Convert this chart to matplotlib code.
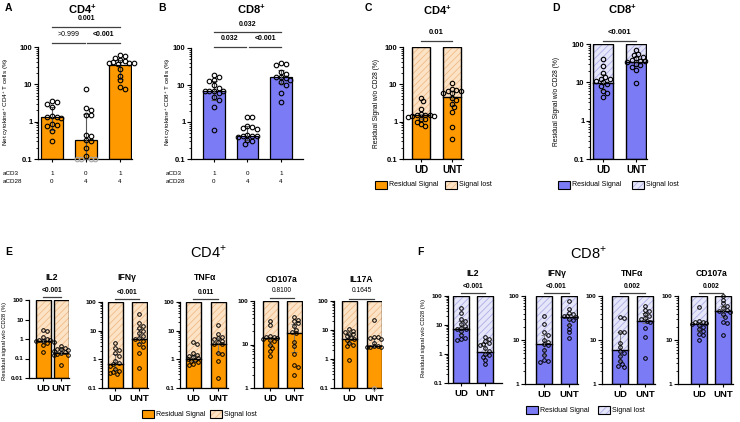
import numpy as np
import matplotlib
matplotlib.use('Agg')
import matplotlib.pyplot as plt
from matplotlib.patches import Rectangle
from matplotlib.ticker import LogLocator, NullFormatter

plt.rcParams['font.family'] = ['Liberation Sans', 'DejaVu Sans']
plt.rcParams['mathtext.fontset'] = 'custom'
plt.rcParams['mathtext.rm'] = 'Liberation Sans'
plt.rcParams['mathtext.bf'] = 'Liberation Sans:bold'
plt.rcParams['hatch.linewidth'] = 0.6

# ---------------- data ----------------
aCD3 = ['1', '0', '1']
aCD28 = ['0', '4', '4']
groups2 = ['UD', 'UNT']

A_vals = [[3.5, 3.3, 3.0, 2.4, 1.4, 1.3, 1.3, 1.25, 0.85, 0.8, 0.75, 0.55, 0.3],
          [7.5, 2.3, 2.0, 1.5, 1.5, 0.45, 0.42, 0.33, 0.3, 0.2, 0.12, 0.05, 0.05, 0.05, 0.05],
          [60, 57, 50, 45, 42, 40, 38, 38, 37, 36, 26, 17, 13, 8.5, 7.5]]
A_median = [1.3, 0.32, 33]
A_err_lo = [0.6, 0.1, 14]
A_err_hi = [2.4, 1.6, 45]

B_vals = [[19, 16, 14, 13, 10, 8.5, 7, 7, 7, 6.8, 6, 4.8, 3.9, 2.6, 0.6],
          [1.4, 1.4, 0.8, 0.75, 0.7, 0.65, 0.45, 0.42, 0.42, 0.42, 0.4, 0.33, 0.3, 0.26],
          [40, 38, 35, 22, 20, 16, 16, 15, 14, 12, 10, 6, 3.5]]
B_median = [6.8, 0.42, 16]
B_err_lo = [4.0, 0.32, 11]
B_err_hi = [13, 0.8, 26]

C_vals = [[4.4, 3.5, 2.2, 1.6, 1.55, 1.5, 1.5, 1.45, 1.4, 1.35, 1.2, 1.2, 1.0, 0.86, 0.76],
          [10.9, 7.7, 7.0, 6.8, 6.5, 5.9, 5.7, 4.4, 3.7, 3.0, 2.4, 1.8, 0.7, 0.34]]
C_median = [1.5, 4.6]

D_vals = [[40, 26, 17, 13.4, 12.5, 12, 10.8, 10, 9, 8, 6, 5.2, 4.1],
          [71, 56, 52, 47, 42, 39, 36, 35, 34, 30, 28, 25, 21, 9.5]]
D_median = [9.9, 34]
D_err_lo = [6.4, 26]
D_err_hi = [16.6, 45]

E_names = ['IL2', 'IFNγ', 'TNFα', 'CD107a', 'IL17A']
E_pvals = ['<0.001', '<0.001', '0.011', '0.8100', '0.1645']
E_vals = [
    [[2.8, 2.5, 1.2, 1.0, 0.9, 0.85, 0.8, 0.75, 0.7, 0.65, 0.5, 0.22],
     [0.45, 0.35, 0.3, 0.3, 0.28, 0.25, 0.22, 0.2, 0.18, 0.16, 0.15, 0.045]],
    [[3.6, 2.4, 2.2, 1.6, 1.3, 0.9, 0.75, 0.7, 0.6, 0.46, 0.4, 0.36, 0.34, 0.31],
     [38, 18, 15, 12, 10, 8, 6.5, 5.5, 5, 4.5, 3.5, 2.8, 1.7, 0.48]],
    [[4.0, 3.3, 1.6, 1.4, 1.3, 1.2, 1.1, 1.0, 0.95, 0.9, 0.8, 0.7, 0.65],
     [16, 7.5, 6, 5.5, 5, 4.5, 4, 3.5, 3.3, 1.7, 1.5, 0.85, 0.22]],
    [[34, 28, 16, 15, 15, 14, 13.5, 13, 12, 10, 8.5, 7, 5.5],
     [42, 37, 34, 31, 26, 22, 19, 18, 11.5, 9, 6, 3.3, 3.0, 2.0]],
    [[10.5, 9.5, 8.5, 7.5, 7, 6, 5.5, 5, 4.5, 3.5, 3.0, 2.7, 0.9],
     [22, 5.8, 5.6, 5.4, 4.8, 3.6, 2.9, 2.7, 2.6, 2.6, 2.5, 0.05]],
]
E_median = [[0.75, 0.2], [0.7, 5.0], [1.0, 3.5], [14, 18], [5.0, 2.7]]
E_ylo = [0.01, 0.1, 0.1, 1, 0.1]

F_names = ['IL2', 'IFNγ', 'TNFα', 'CD107a']
F_pvals = ['<0.001', '<0.001', '0.002', '0.002']
F_vals = [
    [[38, 25, 16, 14, 11, 9, 8, 7.5, 7, 6, 4.5, 3.7, 3.2, 3.0],
     [3.8, 3.2, 2.8, 2.4, 2.2, 2.0, 1.6, 1.3, 1.0, 0.9, 0.8, 0.6, 0.46]],
    [[35, 23, 15, 13, 10, 9, 8, 7.5, 6, 4.5, 3.6, 3.4, 3.2],
     [78, 50, 42, 38, 36, 35, 34, 30, 28, 22, 18, 15, 11]],
    [[34, 31, 15.5, 15, 8.7, 7, 5.7, 5, 4.4, 3.3, 2.8, 2.5, 2.4],
     [59, 48, 46, 40, 35, 32, 30, 27, 26, 19, 11.7, 3.8]],
    [[57, 27, 26, 25, 24, 23, 22, 20, 18, 16, 14, 13, 10],
     [100, 81, 68, 60, 52, 48, 45, 44, 40, 34, 26, 24, 13]],
]
F_median = [[7.5, 1.2], [8, 33], [5.8, 27], [23, 45]]
F_ylo = [0.1, 1, 1, 1]

# ---------------- style ----------------
ORANGE = '#FF9900'
ORANGE_L = '#FDE3C6'
ORANGE_H = '#EDBB88'
BLUE = '#7B7BF5'
BLUE_L = '#E6E6FA'
BLUE_H = '#AEAEE6'

W, H = 740, 422
fig = plt.figure(figsize=(7.4, 4.22), dpi=100)


def ftext(x, y, s, **kw):
    kw.setdefault('ha', 'center')
    kw.setdefault('va', 'center')
    fig.text(x / W, 1 - y / H, s, **kw)


def make_ax(l, r, t, b, centers, ylo, tfs=5.0, tbold=True):
    ax = fig.add_axes([l / W, 1 - b / H, (r - l) / W, (b - t) / H])
    s = (centers[-1] - centers[0]) / (len(centers) - 1)
    ax.set_xlim((l - centers[0]) / s, (r - centers[0]) / s)
    ax.set_yscale('log')
    ax.set_ylim(ylo, 100)
    for sp in ['top', 'right']:
        ax.spines[sp].set_visible(False)
    for sp in ['left', 'bottom']:
        ax.spines[sp].set_linewidth(0.9)
    decs = np.arange(int(round(np.log10(ylo))), 3)
    ticks = [10.0 ** d for d in decs]
    ax.set_yticks(ticks)
    ax.set_yticklabels(['%g' % t_ for t_ in ticks], fontsize=tfs,
                       fontweight='bold' if tbold else 'normal')
    ax.yaxis.set_minor_locator(LogLocator(base=10, subs=np.arange(2, 10)))
    ax.yaxis.set_minor_formatter(NullFormatter())
    ax.tick_params(axis='y', which='major', length=3, width=0.8, pad=1)
    ax.tick_params(axis='y', which='minor', length=1.6, width=0.6)
    ax.tick_params(axis='x', length=2.5, width=0.8, pad=1.5)
    ax.set_xticks(range(len(centers)))
    ax._px = (l, r, t, b, s, (b - t) / (2 - np.log10(ylo)))
    return ax


def swarm(ax, vals, ylo, d):
    l, r, t, b, s, ppd = ax._px
    y = np.log10(np.maximum(vals, ylo)) * ppd
    placed = []
    offs = np.zeros(len(vals))
    for i in np.argsort(-y):
        found = None
        for k in range(0, 30):
            cands = [0.0] if k == 0 else [k * d * 0.5, -k * d * 0.5]
            for xo in cands:
                if all((xo - px) ** 2 + (y[i] - py) ** 2 >= (d * 0.92) ** 2 for px, py in placed):
                    found = xo
                    break
            if found is not None:
                break
        offs[i] = found / s
        placed.append((found, y[i]))
    return offs


def points(ax, i, vals, ylo, d, ms, mew):
    vals = np.asarray(vals, float)
    offs = swarm(ax, vals, ylo, d)
    inr = vals >= ylo
    ax.plot(i + offs[inr], vals[inr], 'o', ms=ms, mfc='none', mec='black', mew=mew,
            zorder=5, clip_on=False)
    if (~inr).any():
        ax.plot(i + offs[~inr], np.full((~inr).sum(), ylo), 'o', ms=ms, mfc='none',
                mec='0.65', mew=mew, zorder=5, clip_on=False)


def yfrac(ax, ypx):
    l, r, t, b, s, ppd = ax._px
    return (b - ypx) / (b - t)


def sig(ax, x0, x1, ypx, text, typx, fs=5.0, bold=True, tx=None):
    tr = ax.get_xaxis_transform()
    yf = yfrac(ax, ypx)
    ax.plot([x0, x1], [yf, yf], transform=tr, clip_on=False, color='0.25', lw=0.9)
    ax.text((x0 + x1) / 2 if tx is None else tx, yfrac(ax, typx), text, transform=tr,
            ha='center', va='center', fontsize=fs, fontweight='bold' if bold else 'normal')


def simple_bars(ax, vals, med, lo, hi, col, width, ylo):
    x = np.arange(len(med))
    ax.bar(x, np.array(med) - ylo, bottom=ylo, width=width, color=col,
           edgecolor='black', lw=0.9, zorder=2)
    ax.errorbar(x, med, yerr=[np.array(med) - np.array(lo), np.array(hi) - np.array(med)],
                fmt='none', ecolor='0.35', elinewidth=0.8, capsize=2.5, capthick=0.8, zorder=3)
    for i, v in enumerate(vals):
        points(ax, i, v, ylo, 4.6, 3.3, 0.8)


def stacked_bars(ax, vals, med, col, light, hatchc, width, ylo, d, ms, mew, lo=None, hi=None):
    x = np.arange(len(med))
    med = np.array(med, float)
    ax.bar(x, 100 - med, bottom=med, width=width, color=light, edgecolor=hatchc,
           hatch='/////', lw=0, zorder=1)
    ax.bar(x, med - ylo, bottom=ylo, width=width, color=col, lw=0, zorder=1)
    ax.bar(x, 100 - ylo, bottom=ylo, width=width, fill=False, edgecolor='black',
           lw=1.0, zorder=2)
    for i in x:
        ax.plot([i - width / 2, i + width / 2], [med[i], med[i]], color='black', lw=1.0, zorder=2)
    if lo is None:
        lo = [np.percentile(v, 25) for v in vals]
        hi = [np.percentile(v, 75) for v in vals]
    ax.errorbar(x, med, yerr=[med - np.array(lo), np.array(hi) - med],
                fmt='none', ecolor='0.45', elinewidth=0.6, capsize=2.0, capthick=0.6, zorder=3)
    for i, v in enumerate(vals):
        points(ax, i, v, ylo, d, ms, mew)


def legend(x1, x2, y, col, light, hatchc, fs=5.0, w=12, h=8):
    r1 = Rectangle((x1 / W, 1 - (y + h / 2) / H), w / W, h / H, transform=fig.transFigure,
                   facecolor=col, edgecolor='black', lw=0.8)
    fig.add_artist(r1)
    ftext(x1 + w + 2, y, 'Residual Signal', ha='left', fontsize=fs)
    r2 = Rectangle((x2 / W, 1 - (y + h / 2) / H), w / W, h / H, transform=fig.transFigure,
                   facecolor=light, edgecolor=hatchc, hatch='/////', lw=0)
    fig.add_artist(r2)
    r3 = Rectangle((x2 / W, 1 - (y + h / 2) / H), w / W, h / H, transform=fig.transFigure,
                   fill=False, edgecolor='black', lw=0.8)
    fig.add_artist(r3)
    ftext(x2 + w + 2, y, 'Signal lost', ha='left', fontsize=fs)


SUP = r'$^{\mathbf{+}}$'

# ---------------- Panel A ----------------
axA = make_ax(38, 132, 47, 159, [52, 85.5, 120], 0.1, tfs=5.5)
simple_bars(axA, A_vals, A_median, A_err_lo, A_err_hi, ORANGE, 0.63, 0.1)
axA.set_xticklabels([])
ftext(6, 102, 'Net cytokine$^{+}$ CD4$^{+}$ T cells (%)', fontsize=4.6, rotation=90)
sig(axA, 0, 2, 27, '0.001', 19)
sig(axA, 0, 0.97, 43, '>0.999', 35, bold=False)
sig(axA, 1.03, 2, 43, '<0.001', 35)
ftext(5, 8, 'A', ha='left', fontsize=7.5, fontweight='bold')
ftext(82, 9, 'CD4' + SUP, fontsize=8, fontweight='bold')
ftext(3, 173, 'aCD3', ha='left', fontsize=4.5)
ftext(3, 181, 'aCD28', ha='left', fontsize=4.5)
for cx, a3, a28 in zip([52, 85.5, 120], aCD3, aCD28):
    ftext(cx, 173, a3, fontsize=4.5)
    ftext(cx, 181, a28, fontsize=4.5)

# ---------------- Panel B ----------------
axB = make_ax(191, 303, 48, 159, [214, 247.5, 281], 0.1, tfs=5.5)
simple_bars(axB, B_vals, B_median, B_err_lo, B_err_hi, BLUE, 0.63, 0.1)
axB.set_xticklabels([])
ftext(168, 102, 'Net cytokine$^{+}$ CD8$^{+}$ T cells (%)', fontsize=4.6, rotation=90)
sig(axB, 0, 2, 32, '0.032', 24)
sig(axB, 0, 0.95, 47, '0.032', 39)
sig(axB, 1.05, 2, 47, '<0.001', 39)
ftext(158, 8, 'B', ha='left', fontsize=7.5, fontweight='bold')
ftext(251, 9, 'CD8' + SUP, fontsize=8, fontweight='bold')
ftext(166, 173, 'aCD3', ha='left', fontsize=4.5)
ftext(166, 181, 'aCD28', ha='left', fontsize=4.5)
for cx, a3, a28 in zip([214, 247.5, 281], aCD3, aCD28):
    ftext(cx, 173, a3, fontsize=4.5)
    ftext(cx, 181, a28, fontsize=4.5)

# ---------------- Panel C ----------------
axC = make_ax(403, 463, 47, 159, [421, 452], 0.1, tfs=5.5)
stacked_bars(axC, C_vals, C_median, ORANGE, ORANGE_L, ORANGE_H, 0.6, 0.1, 4.4, 3.2, 0.8)
axC.set_xticklabels(groups2, fontsize=7, fontweight='bold')
ftext(377, 103, 'Residual Signal w/o CD28 (%)', fontsize=4.8, rotation=90)
sig(axC, 0, 1, 41, '0.01', 32, fs=5.5)
ftext(365, 8, 'C', ha='left', fontsize=7.5, fontweight='bold')
ftext(437, 10, 'CD4' + SUP, fontsize=8, fontweight='bold')
legend(375, 445, 185, ORANGE, ORANGE_L, ORANGE_H)

# ---------------- Panel D ----------------
axD = make_ax(590, 647, 44, 159, [603, 636], 0.1, tfs=5.5)
stacked_bars(axD, D_vals, D_median, BLUE, BLUE_L, BLUE_H, 0.6, 0.1, 4.4, 3.2, 0.8,
             lo=D_err_lo, hi=D_err_hi)
axD.set_xticklabels(groups2, fontsize=7, fontweight='bold')
ftext(557, 101, 'Residual Signal w/o CD28 (%)', fontsize=4.8, rotation=90)
sig(axD, 0, 1, 41, '<0.001', 32, fs=5.5)
ftext(552, 8, 'D', ha='left', fontsize=7.5, fontweight='bold')
ftext(622, 9, 'CD8' + SUP, fontsize=8, fontweight='bold')
legend(558, 632, 185, BLUE, BLUE_L, BLUE_H)

# ---------------- Panel E ----------------
E_box = [(29, 69, 300, 378, [43, 61]),
         (102, 148, 302, 388, [115, 139]),
         (180, 228, 302, 388, [193, 218]),
         (254, 303, 301, 388, [270, 294]),
         (334, 382, 301, 388, [349, 374])]
E_title_y = [278, 278, 278, 279, 279]
E_sig_y = [(297, 290), (299, 292), (299, 292), (298, 290), (299, 290)]
for k in range(5):
    l, r, t, b, cen = E_box[k]
    ax = make_ax(l, r, t, b, cen, E_ylo[k], tfs=4.6)
    wd = 15.0 / ((cen[1] - cen[0]))
    stacked_bars(ax, E_vals[k], E_median[k], ORANGE, ORANGE_L, ORANGE_H, min(wd, 0.85),
                 E_ylo[k], 3.6, 2.6, 0.7)
    ax.set_xticklabels(groups2, fontsize=6.8, fontweight='bold')
    bold = not E_pvals[k][0].isdigit() or E_pvals[k] in ('0.011',)
    sig(ax, 0, 1, E_sig_y[k][0], E_pvals[k], E_sig_y[k][1], fs=4.8, bold=bold)
    ftext((cen[0] + cen[1]) / 2, E_title_y[k], E_names[k], fontsize=6.2, fontweight='bold')
ftext(5, 341, 'Residual signal w/o CD28 (%)', fontsize=4.2, rotation=90)
ftext(5, 252, 'E', ha='left', fontsize=7.5, fontweight='bold')
ftext(208, 252, 'CD4$^{+}$', fontsize=10.5)
legend(142, 210, 414, ORANGE, ORANGE_L, ORANGE_H, fs=5.0)

# ---------------- Panel F ----------------
F_box = [(448, 502, 296, 383, [461, 485]),
         (525, 578, 296, 384, [544, 569]),
         (602, 655, 296, 384, [620, 645]),
         (678, 733, 296, 384, [699, 723])]
for k in range(4):
    l, r, t, b, cen = F_box[k]
    ax = make_ax(l, r, t, b, cen, F_ylo[k], tfs=4.6)
    stacked_bars(ax, F_vals[k], F_median[k], BLUE, BLUE_L, BLUE_H, 0.63,
                 F_ylo[k], 3.6, 2.6, 0.7)
    ax.set_xticklabels(groups2, fontsize=6.8, fontweight='bold')
    sig(ax, 0, 1, 293, F_pvals[k], 286, fs=4.8, bold=True)
    ftext((cen[0] + cen[1]) / 2, 274, F_names[k], fontsize=6.2, fontweight='bold')
ftext(424, 338, 'Residual signal w/o CD28 (%)', fontsize=4.2, rotation=90)
ftext(417, 252, 'F', ha='left', fontsize=7.5, fontweight='bold')
ftext(588, 253, 'CD8$^{+}$', fontsize=10.5)
legend(526, 598, 410, BLUE, BLUE_L, BLUE_H, fs=5.0)

fig.savefig('out.png', dpi=100)
